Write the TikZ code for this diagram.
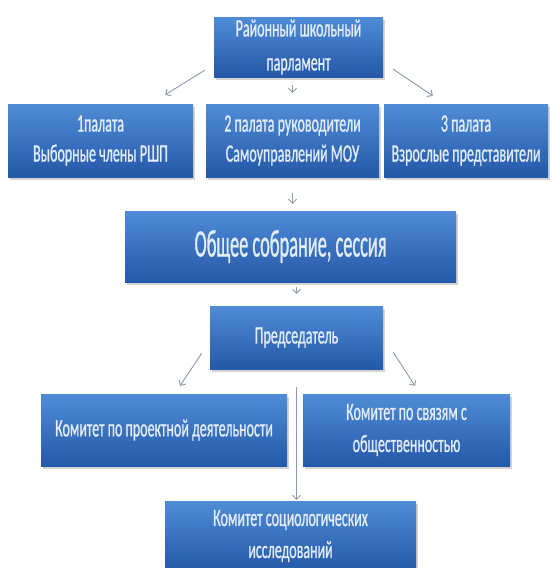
\documentclass[tikz,border=0pt]{standalone}
\usepackage{fontspec}
\usepackage{xcolor}
\usepackage{tikz}
\usetikzlibrary{arrows.meta, shadows}

\newfontfamily\boxfont[FakeStretch=0.56, FakeBold=0.8]{Carlito}
\newfontfamily\bigboxfont[FakeStretch=0.47, FakeBold=0.8]{Carlito}
\definecolor{boxtop}{RGB}{80,140,214}
\definecolor{boxbot}{RGB}{36,88,168}
\definecolor{boxtext}{RGB}{226,236,250}
\definecolor{linkgray}{RGB}{140,152,172}

\begin{document}
\begin{tikzpicture}[x=1pt, y=-1pt,
    unit/.style={rectangle, inner sep=0pt, align=center,
      top color=boxtop, bottom color=boxbot, text=boxtext,
      drop shadow={shadow xshift=1.5pt, shadow yshift=-2.5pt, opacity=0.35},
      font=\boxfont\fontsize{25}{32}\selectfont},
    link/.style={draw=linkgray, line width=0.9pt,
      -{Straight Barb[length=4pt, width=8pt]}}]
      \useasboundingbox (0,0) rectangle (552,568);

      % Top of the structure
      \node[unit, minimum width=169pt, minimum height=60pt,
        font=\boxfont\fontsize{25}{34}\selectfont] (parl) at (298.5,47)
        {Районный школьный\\парламент};

      % The three chambers
      \node[unit, minimum width=185pt, minimum height=73pt,
        font=\boxfont\fontsize{25}{30}\selectfont] (ch1) at (100.5,140.5)
        {1палата\\Выборные члены РШП};
      \node[unit, minimum width=173pt, minimum height=73pt,
        font=\boxfont\fontsize{25}{30}\selectfont] (ch2) at (292.5,140.5)
        {2 палата руководители\\Самоуправлений МОУ};
      \node[unit, minimum width=164pt, minimum height=73pt,
        font=\boxfont\fontsize{25}{30}\selectfont] (ch3) at (466,140.5)
        {3 палата\\Взрослые представители};

      % General assembly and chairman
      \node[unit, minimum width=331pt, minimum height=71pt,
        font=\bigboxfont\fontsize{39}{40}\selectfont] (assembly) at (290.5,246.5)
        {Общее собрание, сессия};
      \node[unit, minimum width=173pt, minimum height=63pt] (chair) at (296.5,337.5)
        {Председатель};

      % Committees
      \node[unit, minimum width=246pt, minimum height=72pt] (projcom) at (164,430)
        {Комитет по проектной деятельности};
      \node[unit, minimum width=207pt, minimum height=72pt] (pubcom) at (406.5,430)
        {Комитет по связям с\\общественностью};
      \node[unit, minimum width=251pt, minimum height=70pt] (sociocom) at (290.5,536)
        {Комитет социологических\\исследований};

      % Links
      \draw[link] ([shift={(-9pt,7pt)}]parl.south west) -- ([shift={(-28pt,9pt)}]ch1.north east);
      \draw[link] ([shift={(10pt,8pt)}]parl.south east) -- ([shift={(49pt,8pt)}]ch3.north west);
      \draw[link, shorten <=8pt, shorten >=11pt] (ch2.north |- parl.south) -- (ch2.north);
      \draw[link, shorten <=16pt, shorten >=7pt] (ch2.south) -- (ch2.south |- assembly.north);
      \draw[link, shorten <=5pt, shorten >=12pt] (chair.north |- assembly.south) -- (chair.north);
      \draw[link] ([shift={(-8pt,16pt)}]chair.south west) -- ([shift={(16pt,8pt)}]projcom.north);
      \draw[link] ([shift={(10pt,17pt)}]chair.south east) -- ([shift={(8.5pt,8pt)}]pubcom.north);
      \draw[link, shorten <=18pt, shorten >=1pt] (chair.south) -- (chair.south |- sociocom.north);
    \end{tikzpicture}
\end{document}
